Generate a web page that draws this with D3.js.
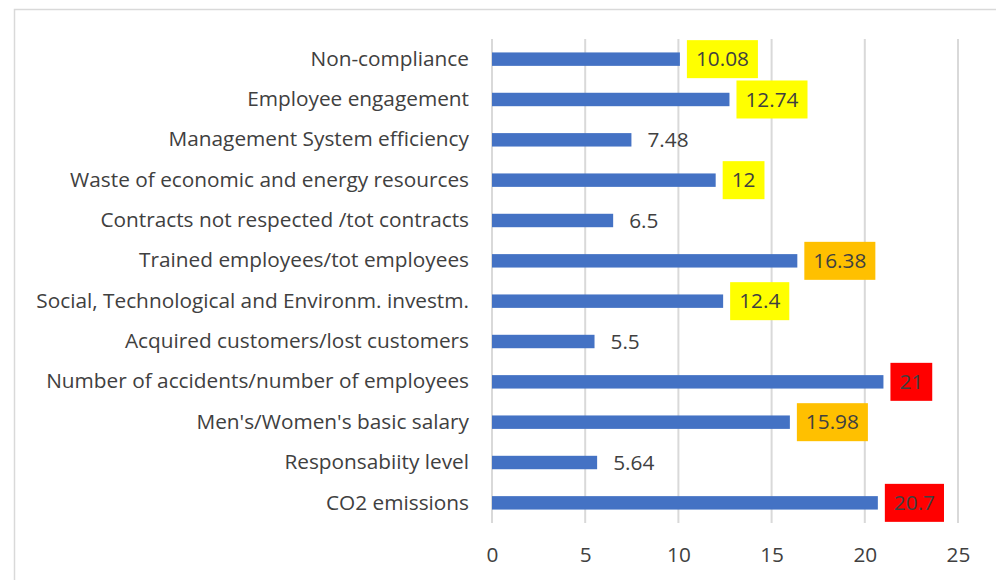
<!DOCTYPE html>
<html>
<head>
<meta charset="utf-8">
<script src="https://cdn.jsdelivr.net/npm/d3@7"></script>
<style>
  body { margin: 0; background: #fff; }
  text { font-family: "Open Sans", sans-serif; fill: #404040; }
</style>
</head>
<body>
<div id="chart"></div>
<script>

// categories, top to bottom
var categories = [
    "Non-compliance",
    "Employee engagement",
    "Management System efficiency",
    "Waste of economic and energy resources",
    "Contracts not respected /tot contracts",
    "Trained employees/tot employees",
    "Social, Technological and Environm. investm.",
    "Acquired customers/lost customers",
    "Number of accidents/number of employees",
    "Men's/Women's basic salary",
    "Responsabiity level",
    "CO2 emissions"
];

var values = [10.08, 12.74, 7.48, 12, 6.5, 16.38, 12.4, 5.5, 21, 15.98, 5.64, 20.7];

// highlight level of each data label
var levels = ["mid", "mid", "none", "mid", "none", "high", "mid", "none", "top", "high", "none", "top"];

var xTicks = [0, 5, 10, 15, 20, 25];

var levelColor = { none: null, mid: "#FFFF00", high: "#FFC000", top: "#FF0000" };

var data = categories.map(function(c, i) {
    return { name: c, value: values[i], level: levels[i] };
});

var W = 996, H = 580;
var margin = {top: 39, right: 38, bottom: 57, left: 492};
var width = W - margin.left - margin.right;
var height = H - margin.top - margin.bottom;
var fontSize = "20.8px";

var svg = d3.select("#chart").append("svg")
    .attr("width", W)
    .attr("height", H);

// chart border
svg.append("rect")
    .attr("x", 14.5)
    .attr("y", 9.5)
    .attr("width", W)
    .attr("height", H)
    .attr("fill", "none")
    .attr("stroke", "#d9d9d9")
    .attr("stroke-width", 1.5);

var g = svg.append("g")
    .attr("transform", "translate(" + margin.left + "," + margin.top + ")");

var x = d3.scaleLinear()
    .domain([0, 25])
    .range([0, width]);

var y = d3.scaleBand()
    .domain(categories)
    .range([0, height])
    .paddingInner(0.667)
    .paddingOuter(0.333);

// gridlines
g.selectAll(".grid")
    .data(xTicks)
    .enter()
    .append("line")
    .attr("class", "grid")
    .attr("x1", d => x(d))
    .attr("x2", d => x(d))
    .attr("y1", 0)
    .attr("y2", height)
    .attr("stroke", "#d9d9d9")
    .attr("stroke-width", 2);

// x axis labels
var xAxis = d3.axisBottom(x)
    .tickValues(xTicks)
    .tickSize(0)
    .tickPadding(24);

g.append("g")
    .attr("class", "x-axis")
    .attr("transform", "translate(0," + height + ")")
    .call(xAxis)
    .call(a => a.select(".domain").remove())
    .selectAll("text")
    .style("font-size", fontSize)
    .style("font-family", "'Open Sans', sans-serif")
    .attr("fill", "#595959");

// category labels
var yAxis = d3.axisLeft(y)
    .tickSize(0)
    .tickPadding(23);

g.append("g")
    .attr("class", "y-axis")
    .call(yAxis)
    .call(a => a.select(".domain").remove())
    .selectAll("text")
    .style("font-size", fontSize)
    .style("font-family", "'Open Sans', sans-serif")
    .attr("fill", "#404040");

// bars
g.selectAll(".bar")
    .data(data)
    .enter()
    .append("rect")
    .attr("class", "bar")
    .attr("x", 0)
    .attr("y", d => y(d.name))
    .attr("width", d => x(d.value))
    .attr("height", y.bandwidth())
    .attr("fill", "#4472C4");

// data labels with highlight boxes
var lab = g.selectAll(".lab")
    .data(data)
    .enter()
    .append("g")
    .attr("class", "lab")
    .attr("transform", d => "translate(" + (x(d.value) + 16) + "," + (y(d.name) + y.bandwidth() / 2) + ")");

lab.append("text")
    .attr("dy", "0.35em")
    .style("font-size", fontSize)
    .attr("fill", "#404040")
    .text(d => d.value);

lab.each(function(d) {
    if (!levelColor[d.level]) return;
    var el = d3.select(this);
    var w = el.select("text").node().getComputedTextLength();
    el.insert("rect", "text")
        .attr("x", -9)
        .attr("y", -19)
        .attr("width", w + 18)
        .attr("height", 38)
        .attr("fill", levelColor[d.level]);
});

</script>
</body>
</html>
